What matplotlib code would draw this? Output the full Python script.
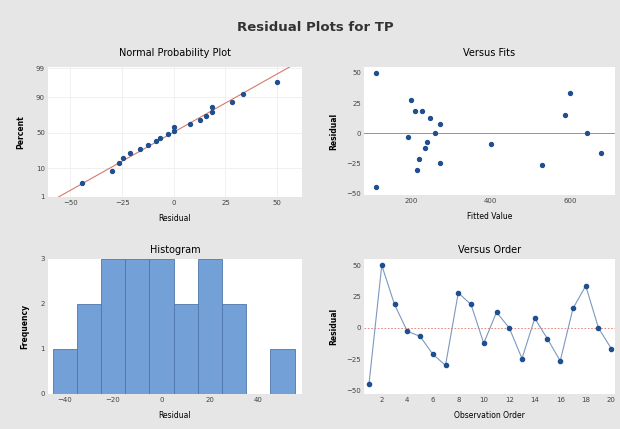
import numpy as np
import matplotlib.pyplot as plt
from statistics import NormalDist

# residuals and fitted values, in observation order
obs = list(range(1, 21))
residual = [-44.5, 50.0, 18.7, -2.7, -6.7, -21.0, -30.0, 28.0, 18.7, -12.3,
            12.5, 0.0, -24.5, 7.7, -8.8, -26.4, 15.5, 33.6, 0.0, -16.5]
fitted = [112, 112, 210, 193, 241, 221, 215, 200, 229, 235,
          247, 261, 272, 274, 401, 529, 587, 598, 642, 677]
hist_edges = [-45, -35, -25, -15, -5, 5, 15, 25, 35, 45, 55]
pct_ticks = [1, 10, 50, 90, 99]

bg = '#e6e6e6'
blue = '#1f4f8f'
red = '#d9786a'
tick_fs = 5
lab_fs = 5.5
tit_fs = 7

fig = plt.figure(figsize=(6.2, 4.29), dpi=100, facecolor=bg)
fig.text(0.508, 0.937, 'Residual Plots for TP', ha='center', va='center',
         fontsize=9.5, fontweight='bold', color='#333333')

ax1 = fig.add_axes([0.077, 0.541, 0.41, 0.303])
ax2 = fig.add_axes([0.587, 0.545, 0.405, 0.299])
ax3 = fig.add_axes([0.077, 0.082, 0.41, 0.315])
ax4 = fig.add_axes([0.587, 0.082, 0.405, 0.315])

for ax in (ax1, ax2, ax3, ax4):
    ax.set_facecolor('white')
    for s in ax.spines.values():
        s.set_visible(False)
    ax.tick_params(labelsize=tick_fs, length=0, pad=2, colors='#444444')

nd = NormalDist()

# normal probability plot
r_sorted = np.sort(residual)
n = len(r_sorted)
ranks = (np.arange(1, n + 1) - 0.3) / (n + 0.4)
z = np.array([nd.inv_cdf(p) for p in ranks])
mu = np.mean(residual)
sd = np.std(residual, ddof=1)
zl = np.linspace(-2.6, 2.6, 50)
ax1.plot(mu + sd * zl, zl, color=red, lw=0.8)
ax1.scatter(r_sorted, z, s=8, color=blue, zorder=3)
ax1.set_yticks([nd.inv_cdf(p / 100) for p in pct_ticks])
ax1.set_yticklabels([str(p) for p in pct_ticks])
ax1.set_xticks([-50, -25, 0, 25, 50])
ax1.set_xlim(-61, 62)
ax1.set_ylim(nd.inv_cdf(0.01), nd.inv_cdf(0.99) + 0.05)
ax1.grid(True, color='#eeeeee', lw=0.6)
ax1.set_axisbelow(True)
ax1.set_xlabel('Residual', fontsize=lab_fs, labelpad=6)
ax1.set_ylabel('Percent', fontsize=lab_fs, labelpad=8, fontweight='bold')
ax1.set_title('Normal Probability Plot', fontsize=tit_fs, pad=8)

# versus fits
ax2.axhline(0, color=red, lw=0.7)
ax2.scatter(fitted, residual, s=8, color=blue, zorder=3)
ax2.set_xticks([200, 400, 600])
ax2.set_yticks([-50, -25, 0, 25, 50])
ax2.set_xlim(83, 711)
ax2.set_ylim(-51, 55)
ax2.set_xlabel('Fitted Value', fontsize=lab_fs, labelpad=6)
ax2.set_ylabel('Residual', fontsize=lab_fs, labelpad=6, fontweight='bold')
ax2.set_title('Versus Fits', fontsize=tit_fs, pad=8)

# histogram
ax3.hist(residual, bins=hist_edges, color='#74a0d8', edgecolor='#4f76aa', lw=0.6)
ax3.set_xticks([-40, -20, 0, 20, 40])
ax3.set_yticks([0, 1, 2, 3])
ax3.set_xlim(-47, 58)
ax3.set_ylim(0, 3)
ax3.set_xlabel('Residual', fontsize=lab_fs, labelpad=6)
ax3.set_ylabel('Frequency', fontsize=lab_fs, labelpad=8, fontweight='bold')
ax3.set_title('Histogram', fontsize=tit_fs, pad=4)

# versus order
ax4.axhline(0, color=red, lw=0.6, ls=(0, (2, 2)))
ax4.plot(obs, residual, color='#7d98c0', lw=0.8, marker='o', ms=3,
         mfc=blue, mec=blue)
ax4.set_xticks(list(range(2, 21, 2)))
ax4.set_yticks([-50, -25, 0, 25, 50])
ax4.set_xlim(0.6, 20.3)
ax4.set_ylim(-52.7, 55.3)
ax4.set_xlabel('Observation Order', fontsize=lab_fs, labelpad=6)
ax4.set_ylabel('Residual', fontsize=lab_fs, labelpad=6, fontweight='bold')
ax4.set_title('Versus Order', fontsize=tit_fs, pad=4)

fig.savefig('out.png', dpi=100, facecolor=bg)
